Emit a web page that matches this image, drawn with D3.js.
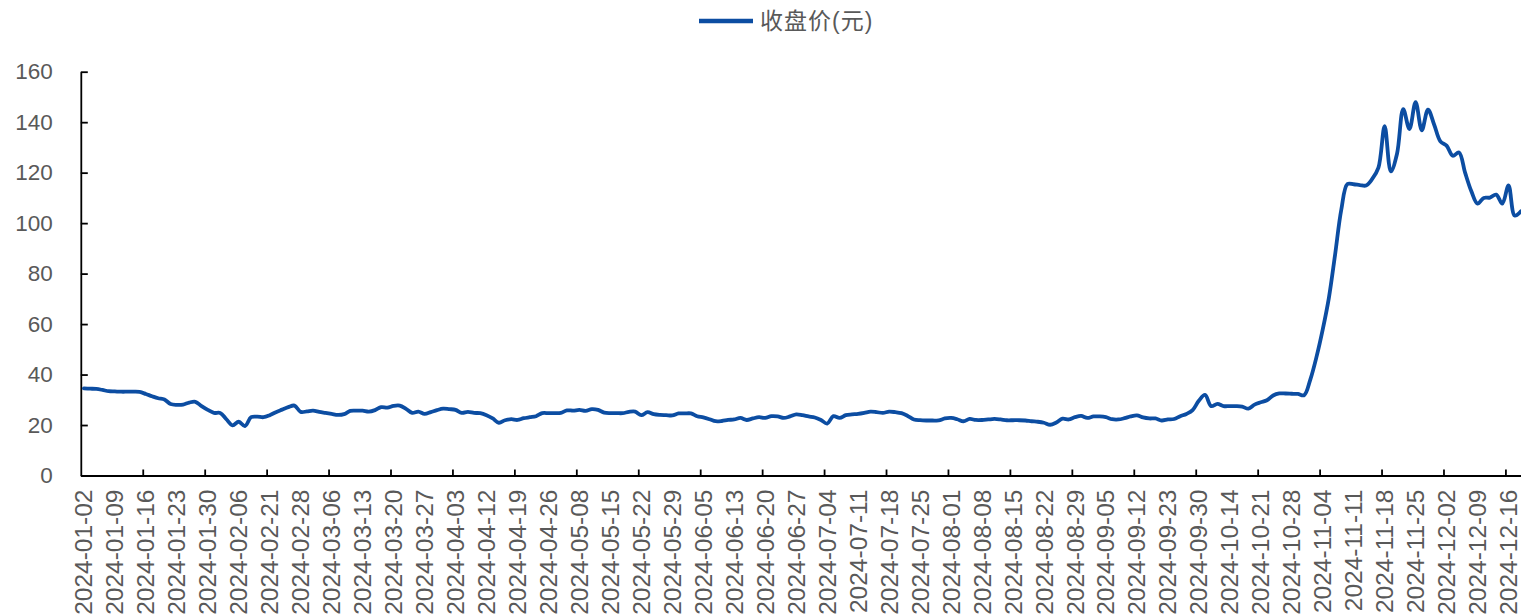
<!DOCTYPE html>
<html>
<head>
<meta charset="utf-8">
<script src="https://cdn.jsdelivr.net/npm/d3@7/dist/d3.min.js"></script>
<style>
  html, body { margin: 0; padding: 0; background: #ffffff; }
  svg { display: block; }
</style>
</head>
<body>
<script>
// ---------- DATA ----------
const seriesName = "收盘价(元)";

const dates = [
"2024-01-02","2024-01-03","2024-01-04","2024-01-05","2024-01-08","2024-01-09","2024-01-10","2024-01-11","2024-01-12",
"2024-01-15","2024-01-16","2024-01-17","2024-01-18","2024-01-19","2024-01-22","2024-01-23","2024-01-24","2024-01-25","2024-01-26",
"2024-01-29","2024-01-30","2024-01-31",
"2024-02-01","2024-02-02","2024-02-05","2024-02-06","2024-02-07","2024-02-08","2024-02-19","2024-02-20","2024-02-21","2024-02-22",
"2024-02-23","2024-02-26","2024-02-27","2024-02-28","2024-02-29",
"2024-03-01","2024-03-04","2024-03-05","2024-03-06","2024-03-07","2024-03-08","2024-03-11","2024-03-12","2024-03-13","2024-03-14",
"2024-03-15","2024-03-18","2024-03-19","2024-03-20","2024-03-21","2024-03-22","2024-03-25","2024-03-26","2024-03-27","2024-03-28","2024-03-29",
"2024-04-01","2024-04-02","2024-04-03","2024-04-08","2024-04-09","2024-04-10","2024-04-11","2024-04-12","2024-04-15","2024-04-16",
"2024-04-17","2024-04-18","2024-04-19","2024-04-22","2024-04-23","2024-04-24","2024-04-25","2024-04-26","2024-04-29","2024-04-30",
"2024-05-06","2024-05-07","2024-05-08","2024-05-09","2024-05-10","2024-05-13","2024-05-14","2024-05-15","2024-05-16","2024-05-17",
"2024-05-20","2024-05-21","2024-05-22","2024-05-23","2024-05-24","2024-05-27","2024-05-28","2024-05-29","2024-05-30","2024-05-31",
"2024-06-03","2024-06-04","2024-06-05","2024-06-06","2024-06-07","2024-06-11","2024-06-12","2024-06-13","2024-06-14","2024-06-17",
"2024-06-18","2024-06-19","2024-06-20","2024-06-21","2024-06-24","2024-06-25","2024-06-26","2024-06-27","2024-06-28",
"2024-07-01","2024-07-02","2024-07-03","2024-07-04","2024-07-05","2024-07-08","2024-07-09","2024-07-10","2024-07-11","2024-07-12",
"2024-07-15","2024-07-16","2024-07-17","2024-07-18","2024-07-19","2024-07-22","2024-07-23","2024-07-24","2024-07-25","2024-07-26",
"2024-07-29","2024-07-30","2024-07-31",
"2024-08-01","2024-08-02","2024-08-05","2024-08-06","2024-08-07","2024-08-08","2024-08-09","2024-08-12","2024-08-13","2024-08-14",
"2024-08-15","2024-08-16","2024-08-19","2024-08-20","2024-08-21","2024-08-22","2024-08-23","2024-08-26","2024-08-27","2024-08-28",
"2024-08-29","2024-08-30",
"2024-09-02","2024-09-03","2024-09-04","2024-09-05","2024-09-06","2024-09-09","2024-09-10","2024-09-11","2024-09-12","2024-09-13",
"2024-09-18","2024-09-19","2024-09-20","2024-09-23","2024-09-24","2024-09-25","2024-09-26","2024-09-27","2024-09-30",
"2024-10-08","2024-10-09","2024-10-10","2024-10-11","2024-10-14","2024-10-15","2024-10-16","2024-10-17","2024-10-18","2024-10-21",
"2024-10-22","2024-10-23","2024-10-24","2024-10-25","2024-10-28","2024-10-29","2024-10-30","2024-10-31",
"2024-11-01","2024-11-04","2024-11-05","2024-11-06","2024-11-07","2024-11-08","2024-11-11","2024-11-12","2024-11-13","2024-11-14",
"2024-11-15","2024-11-18","2024-11-19","2024-11-20","2024-11-21","2024-11-22","2024-11-25","2024-11-26","2024-11-27","2024-11-28",
"2024-11-29",
"2024-12-02","2024-12-03","2024-12-04","2024-12-05","2024-12-06","2024-12-09","2024-12-10","2024-12-11","2024-12-12","2024-12-13",
"2024-12-16","2024-12-17","2024-12-18"
];

const closePrice = [
34.5,34.4,34.3,33.9,33.4,33.3,33.2,33.2,33.2,33.1,
32.3,31.4,30.6,30.1,28.3,28.0,28.1,28.9,29.2,27.5,
26.0,24.8,24.8,22.3,19.9,21.3,19.6,23.1,23.3,23.1,
23.9,25.1,26.1,27.1,27.7,25.2,25.4,25.7,25.2,24.8,
24.4,24.0,24.3,25.6,25.7,25.7,25.3,25.9,27.1,26.9,
27.6,27.7,26.4,24.8,25.3,24.4,25.1,25.9,26.5,26.3,
26.0,24.8,25.2,24.8,24.7,23.9,22.6,20.9,21.9,22.3,
22.0,22.7,23.1,23.5,24.7,24.7,24.7,24.8,25.8,25.7,
26.0,25.6,26.3,26.0,24.9,24.7,24.7,24.7,25.2,25.3,
23.9,25.1,24.3,24.0,23.9,23.8,24.6,24.6,24.6,23.5,
23.0,22.3,21.5,21.6,22.0,22.2,22.8,22.0,22.6,23.1,
22.8,23.5,23.4,22.8,23.4,24.2,23.9,23.4,23.0,22.0,
20.6,23.5,22.8,23.9,24.2,24.4,24.8,25.3,25.1,24.8,
25.3,25.1,24.7,23.6,22.2,21.9,21.8,21.8,21.8,22.6,
22.8,22.3,21.5,22.4,22.0,22.0,22.2,22.4,22.2,21.9,
21.9,21.9,21.8,21.5,21.3,20.9,20.1,21.0,22.5,22.2,
23.1,23.6,22.8,23.4,23.4,23.1,22.3,22.2,22.7,23.4,
23.8,23.0,22.6,22.6,21.8,22.2,22.4,23.5,24.4,25.9,
29.6,31.9,27.5,28.4,27.5,27.5,27.5,27.3,26.5,28.1,
29.0,29.8,31.7,32.5,32.5,32.4,32.3,31.8,38.0,47.0,
57.8,70.4,87.5,105.3,115.5,115.4,115.1,114.9,117.5,122.0,
138.4,120.5,127.5,145.2,137.3,147.9,136.8,145.0,139.0,132.4,
130.7,126.7,128.0,119.9,112.6,107.7,110.0,110.1,111.3,107.7,
114.9,103.0,104.7
];

const xTickLabels = [
"2024-01-02","2024-01-09","2024-01-16","2024-01-23","2024-01-30","2024-02-06","2024-02-21","2024-02-28",
"2024-03-06","2024-03-13","2024-03-20","2024-03-27","2024-04-03","2024-04-12","2024-04-19","2024-04-26",
"2024-05-08","2024-05-15","2024-05-22","2024-05-29","2024-06-05","2024-06-13","2024-06-20","2024-06-27",
"2024-07-04","2024-07-11","2024-07-18","2024-07-25","2024-08-01","2024-08-08","2024-08-15","2024-08-22",
"2024-08-29","2024-09-05","2024-09-12","2024-09-23","2024-09-30","2024-10-14","2024-10-21","2024-10-28",
"2024-11-04","2024-11-11","2024-11-18","2024-11-25","2024-12-02","2024-12-09","2024-12-16"
];
const xTickMarkBoundaries = [10,20,30,40,50,60,70,80,90,100,110,120,130,140,150,160,170,180,190,200,210,220,230];
const yTicks = [0,20,40,60,80,100,120,140,160];
const yDomain = [0,160];

// ---------- LAYOUT ----------
const W = 1521, H = 614;
const plotLeft = 80.8, catStep = 6.194;
const plotRight = plotLeft + catStep * dates.length;
const plotTop = 71.7, plotBottom = 475.5;
const lineColor = "#0c4da2";
const textColor = "#595959";
const numFont = "'Liberation Sans', Arial, sans-serif";

const svg = d3.select("body").append("svg").attr("width", W).attr("height", H);

const x = d3.scaleBand().domain(dates).range([plotLeft, plotRight]).padding(0);
const xb = d3.scaleLinear().domain([0, dates.length]).range([plotLeft, plotRight]);
const y = d3.scaleLinear().domain(yDomain).range([plotBottom, plotTop]);

// Y axis
const yAxis = svg.append("g")
  .attr("transform", `translate(${plotLeft},0)`)
  .call(d3.axisLeft(y).tickValues(yTicks).tickSizeInner(-7).tickSizeOuter(0).tickPadding(28));
yAxis.select(".domain").attr("stroke", "#000").attr("stroke-width", 1.8);
yAxis.selectAll(".tick line").attr("stroke", "#000").attr("stroke-width", 1.8);
yAxis.selectAll(".tick text").attr("fill", textColor).style("font-family", numFont).style("font-size", "22.5px");

// X axis: tick marks at category boundaries
const xAxisMarks = svg.append("g")
  .attr("transform", `translate(0,${plotBottom})`)
  .call(d3.axisBottom(xb).tickValues(xTickMarkBoundaries).tickSizeInner(-6).tickSizeOuter(0).tickFormat(""));
xAxisMarks.select(".domain").attr("stroke", "#000").attr("stroke-width", 1.8);
xAxisMarks.selectAll(".tick line").attr("stroke", "#000").attr("stroke-width", 1.8);

// X axis labels at category centres
const xAxisLabels = svg.append("g")
  .attr("transform", `translate(0,${plotBottom})`)
  .call(d3.axisBottom(x).tickValues(xTickLabels).tickSize(0));
xAxisLabels.select(".domain").remove();
xAxisLabels.selectAll(".tick text")
  .attr("fill", textColor)
  .style("font-family", numFont)
  .style("font-size", "24.5px")
  .attr("text-anchor", "end")
  .attr("transform", "rotate(-90)")
  .attr("x", -14)
  .attr("y", 0)
  .attr("dy", "0.35em");

// Line
const line = d3.line()
  .x((d, i) => x(dates[i]) + x.bandwidth() / 2)
  .y(d => y(d))
  .curve(d3.curveCatmullRom.alpha(0.5));

svg.append("path")
  .datum(closePrice)
  .attr("fill", "none")
  .attr("stroke", lineColor)
  .attr("stroke-width", 3.8)
  .attr("stroke-linejoin", "round")
  .attr("stroke-linecap", "round")
  .attr("d", line);

// Legend
const lg = svg.append("g").attr("transform", "translate(699,21)");
lg.append("line").attr("x1", 0).attr("x2", 54).attr("y1", 0).attr("y2", 0)
  .attr("stroke", lineColor).attr("stroke-width", 4.5);
lg.append("text").attr("x", 61).attr("y", 0).attr("dy", "0.36em")
  .attr("fill", textColor)
  .style("font-family", "'Liberation Sans', 'Noto Sans CJK SC', sans-serif")
  .style("font-size", "23px")
  .style("letter-spacing", "1px")
  .text(seriesName);
</script>
</body>
</html>
